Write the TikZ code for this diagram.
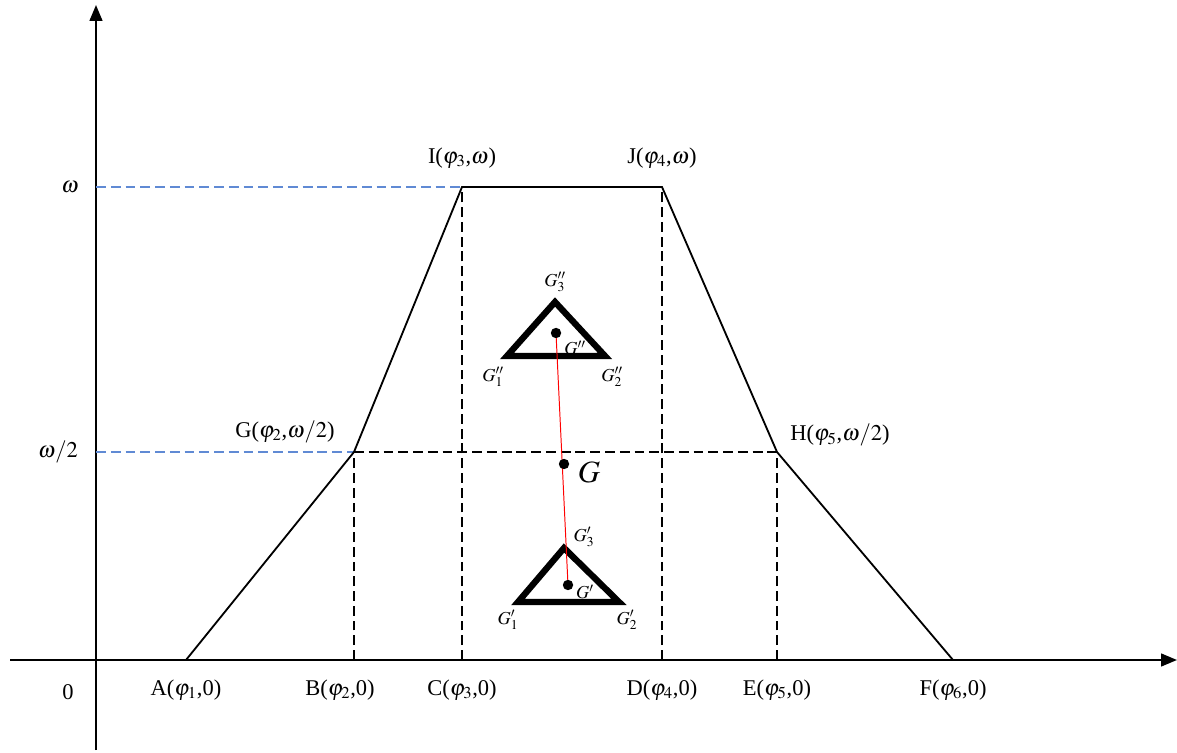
\documentclass[tikz,border=0pt]{standalone}
\usepackage{mathptmx}
\usepackage{fontspec}
\setmainfont{Liberation Serif}
\usetikzlibrary{arrows.meta}
\definecolor{levelblue}{RGB}{96,138,212}

\begin{document}
\begin{tikzpicture}[
  x=0.025cm, y=-0.025cm, font=\fontsize{16}{18}\selectfont,
  axis/.style={line width=1.5pt, -{Triangle[length=4mm,width=3.2mm]}},
  edge/.style={line width=1.3pt},
  guide/.style={line width=1.3pt, dash pattern=on 7pt off 3.5pt},
  level/.style={levelblue, line width=1.2pt, dash pattern=on 7pt off 3.5pt},
  tri/.style={line width=4.5pt, miter limit=20},
  dot/.style={circle, fill, inner sep=0pt, minimum size=2.6mm},
  link/.style={red, line width=0.7pt},
  small/.style={font=\fontsize{13}{15}\selectfont}
]
\useasboundingbox (0,0) rectangle (1177,753);
% key points of the profile
\coordinate (A) at (186,660);
\coordinate (B) at (354,660);
\coordinate (C) at (462,660);
\coordinate (D) at (662,660);
\coordinate (E) at (777,660);
\coordinate (F) at (953,660);
\coordinate (G) at (354,452);
\coordinate (H) at (777,452);
\coordinate (I) at (462,187);
\coordinate (J) at (662,187);
\coordinate (yb) at (96,750);
\coordinate (yt) at (96,5);
\coordinate (xl) at (10,660);
\coordinate (xr) at (1177,660);
\coordinate (Lw) at (96,187);
\coordinate (Lh) at (96,452);
% axes
\draw[axis] (yb) -- (yt);
\draw[axis] (xl) -- (xr);
% dashed guides
\draw[level] (Lw) -- (I);
\draw[level] (Lh) -- (G);
\draw[guide] (G) -- (H);
\draw[guide] (B) -- (G);
\draw[guide] (C) -- (I);
\draw[guide] (D) -- (J);
\draw[guide] (E) -- (H);
% profile
\draw[edge] (A) -- (G) -- (I) -- (J) -- (H) -- (F);
% axis labels
\node (tw) at (70,187) {$\omega$};
\node (th) at (58,452) {$\omega/2$};
\node (t0) at (68,692) {0};
\node (tA) at (186,690) {A($\varphi_1$,0)};
\node (tB) at (340,690) {B($\varphi_2$,0)};
\node (tC) at (462,690) {C($\varphi_3$,0)};
\node (tD) at (662,690) {D($\varphi_4$,0)};
\node (tE) at (777,690) {E($\varphi_5$,0)};
\node (tF) at (953,690) {F($\varphi_6$,0)};
\node (tG) at (285,432) {G($\varphi_2$,$\omega/2$)};
\node (tH) at (840,435) {H($\varphi_5$,$\omega/2$)};
\node (tI) at (462,158) {I($\varphi_3$,$\omega$)};
\node (tJ) at (662,158) {J($\varphi_4$,$\omega$)};
% upper triangle
\coordinate (u1) at (507,356);
\coordinate (u2) at (605,356);
\coordinate (u3) at (555,302);
\draw[tri] (u1) -- (u2) -- (u3) -- cycle;
% lower triangle
\coordinate (l1) at (518,602);
\coordinate (l2) at (619,602);
\coordinate (l3) at (564,548);
\draw[tri] (l1) -- (l2) -- (l3) -- cycle;
% centroids
\coordinate (cu) at (556,333);
\coordinate (cl) at (568,585);
\draw[link] (cu) -- (cl);
\node[dot] (Gu) at (cu) {};
\node[dot] (Gl) at (cl) {};
\node[dot] (G0) at (564,464) {};
\node[small] (tu3) at (555,282) {$G_3''$};
\node[small] (tu1) at (493,377) {$G_1''$};
\node[small] (tu2) at (612,377) {$G_2''$};
\node[small] (tu) at (575,348) {$G''$};
\node[small] (tl3) at (584,537) {$G_3'$};
\node[small] (tl1) at (508,620) {$G_1'$};
\node[small] (tl2) at (627,620) {$G_2'$};
\node[small] (tl) at (585,592) {$G'$};
\node[font=\fontsize{22}{24}\selectfont] (tG0) at (589,472) {$G$};
\end{tikzpicture}
\end{document}
